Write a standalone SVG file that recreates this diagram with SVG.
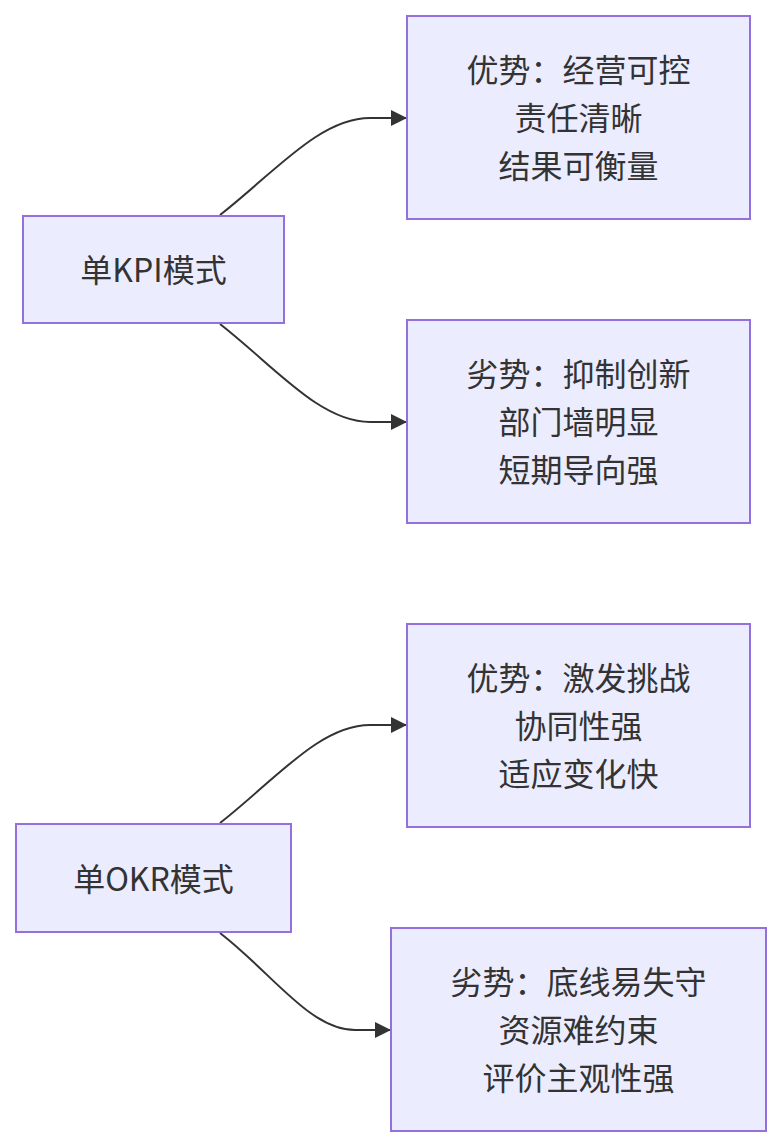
<svg xmlns="http://www.w3.org/2000/svg" width="782" height="1148" viewBox="0 0 782 1148">
<defs>
<marker id="arrow" markerUnits="userSpaceOnUse" viewBox="0 0 16 16" refX="16" refY="8" markerWidth="16" markerHeight="16" orient="auto">
<path d="M0,0 L16,8 L0,16 z" fill="#333333"/>
</marker>
<style>
.node rect{fill:#ECECFF;stroke:#9370DB;stroke-width:2;}
.node text{font-family:"Noto Sans CJK SC","Noto Sans",sans-serif;font-size:32px;fill:#333333;text-anchor:middle;dominant-baseline:central;}
.edge{fill:none;stroke:#333333;stroke-width:2;}
</style>
</defs>
<rect width="782" height="1148" fill="#ffffff"/>
<g id="connectors">
<path class="edge" d="M220,215 C275,172 320,118 370,118 L407,118" marker-end="url(#arrow)"/>
<path class="edge" d="M220,324 C275,367 320,422 370,422 L407,422" marker-end="url(#arrow)"/>
<path class="edge" d="M220,823 C275,780 320,725 370,725 L407,725" marker-end="url(#arrow)"/>
<path class="edge" d="M220,933 C272,973 310,1030 355,1030 L391,1030" marker-end="url(#arrow)"/>
</g>
<g id="kpi" class="node">
<rect x="23" y="216" width="261" height="107"/>
<text x="153.5" y="268">单KPI模式</text>
</g>
<g id="kpi-pro" class="node">
<rect x="407" y="16" width="343" height="203"/>
<text x="578.5" y="68">优势：经营可控</text>
<text x="578.5" y="116">责任清晰</text>
<text x="578.5" y="164">结果可衡量</text>
</g>
<g id="kpi-con" class="node">
<rect x="407" y="320" width="343" height="203"/>
<text x="578.5" y="372">劣势：抑制创新</text>
<text x="578.5" y="420">部门墙明显</text>
<text x="578.5" y="468">短期导向强</text>
</g>
<g id="okr" class="node">
<rect x="16" y="824" width="275" height="108"/>
<text x="153.5" y="876.5">单OKR模式</text>
</g>
<g id="okr-pro" class="node">
<rect x="407" y="624" width="343" height="203"/>
<text x="578.5" y="676">优势：激发挑战</text>
<text x="578.5" y="724">协同性强</text>
<text x="578.5" y="772">适应变化快</text>
</g>
<g id="okr-con" class="node">
<rect x="391" y="928" width="375" height="203"/>
<text x="578.5" y="980">劣势：底线易失守</text>
<text x="578.5" y="1028">资源难约束</text>
<text x="578.5" y="1076">评价主观性强</text>
</g>
</svg>
